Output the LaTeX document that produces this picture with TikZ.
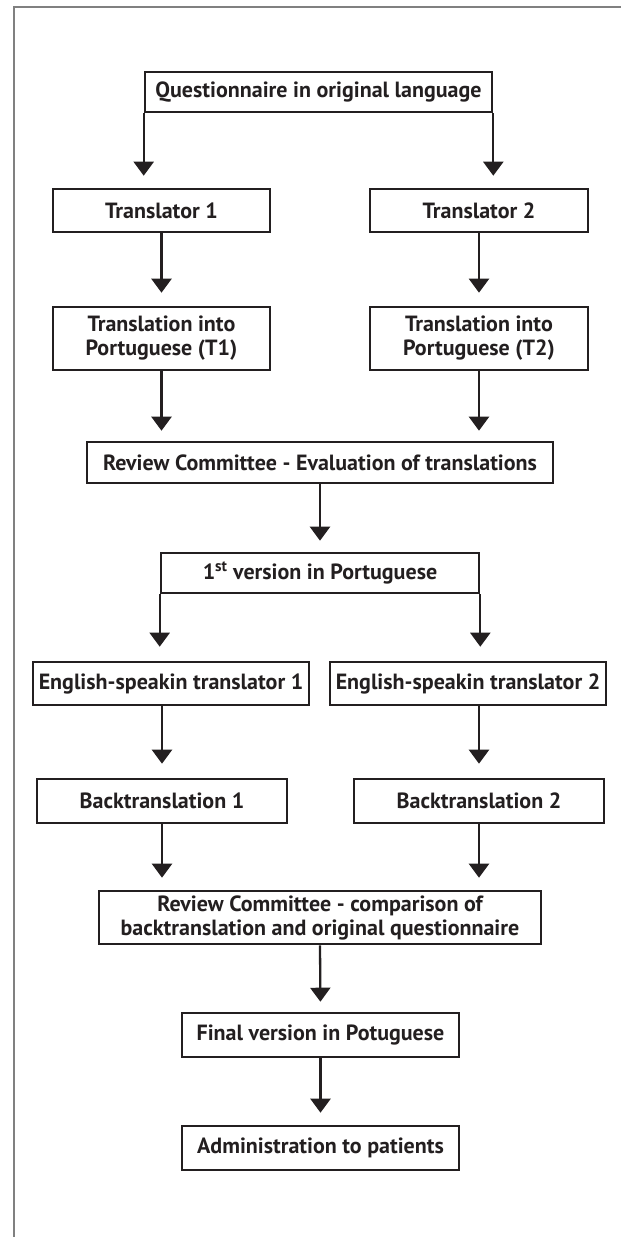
\documentclass[tikz,border=0pt]{standalone}
\usepackage{fontspec}
\setmainfont{PT Sans}
\usetikzlibrary{arrows.meta}
\definecolor{ink}{HTML}{231F20}
\definecolor{frame}{HTML}{808080}
\tikzset{
  box/.style={draw=ink, line width=2.6pt, fill=white, inner sep=0pt, align=center,
    text=ink, font=\bfseries\fontsize{22}{24}\selectfont},
  arr/.style={draw=ink, line width=2.3pt,
    -{Triangle[width=20pt,length=14pt]}},
  edge/.style={draw=frame, line width=2pt}
}
\begin{document}
\begin{tikzpicture}[x=1pt,y=-1pt]
\useasboundingbox (0,0) rectangle (621,1237);
% frame
\coordinate (ftl) at (14,7);
\coordinate (ftr) at (621,7);
\coordinate (fbl) at (14,1237);
\draw[edge] (ftr) -- (ftl) -- (fbl);
% nodes
\node[box, minimum width=347pt, minimum height=40pt] (Q) at (318.5,92) {Questionnaire in original language};
\node[box, minimum width=217pt, minimum height=43pt] (Tr1) at (161.5,210.5) {Translator 1};
\node[box, minimum width=218pt, minimum height=43pt] (Tr2) at (479,210.5) {Translator 2};
\node[box, minimum width=217pt, minimum height=63pt] (TP1) at (161.5,338.5) {Translation into\\Portuguese (T1)};
\node[box, minimum width=218pt, minimum height=63pt] (TP2) at (479,338.5) {Translation into\\Portuguese (T2)};
\node[box, minimum width=466pt, minimum height=41pt] (R1) at (320,462.5) {Review Committee - Evaluation of translations};
\node[box, minimum width=318pt, minimum height=40pt] (V1) at (320,573) {1\textsuperscript{st} version in Portuguese};
\node[box, minimum width=276pt, minimum height=43pt] (E1) at (171,683.5) {English-speakin translator 1};
\node[box, minimum width=276pt, minimum height=43pt] (E2) at (468,683.5) {English-speakin translator 2};
\node[box, minimum width=250pt, minimum height=44pt] (B1) at (162,801) {Backtranslation 1};
\node[box, minimum width=250pt, minimum height=44pt] (B2) at (479,801) {Backtranslation 2};
\node[box, minimum width=442pt, minimum height=53pt] (R2) at (320,917.5) {Review Committee - comparison of\\backtranslation and original questionnaire};
\node[box, minimum width=277pt, minimum height=44pt] (F) at (320.5,1035) {Final version in Potuguese};
\node[box, minimum width=277pt, minimum height=44pt] (A) at (320.5,1148) {Administration to patients};
% connectors
\draw[arr, shorten >=12pt] (Q.south west) -- (Q.south west |- Tr1.north);
\draw[arr, shorten >=12pt] (Q.south east) -- (Q.south east |- Tr2.north);
\draw[arr, shorten >=13pt] (Tr1.south) -- (TP1.north);
\draw[arr, shorten >=13pt] (Tr2.south) -- (TP2.north);
\draw[arr, shorten >=10pt] (TP1.south) -- (TP1.south |- R1.north);
\draw[arr, shorten >=10pt] (TP2.south) -- (TP2.south |- R1.north);
\draw[arr, shorten >=11pt] (R1.south) -- (V1.north);
\draw[arr, shorten >=14pt] (V1.south west) -- (V1.south west |- E1.north);
\draw[arr, shorten >=14pt] (V1.south east) -- (V1.south east |- E2.north);
\draw[arr, shorten >=14pt] (B1.north |- E1.south) -- (B1.north);
\draw[arr, shorten >=14pt] (B2.north |- E2.south) -- (B2.north);
\draw[arr, shorten >=12pt] (B1.south) -- (B1.south |- R2.north);
\draw[arr, shorten >=12pt] (B2.south) -- (B2.south |- R2.north);
\draw[arr, shorten >=10pt] (R2.south) -- (F.north);
\draw[arr, shorten >=12pt] (F.south) -- (A.north);
\end{tikzpicture}
\end{document}
